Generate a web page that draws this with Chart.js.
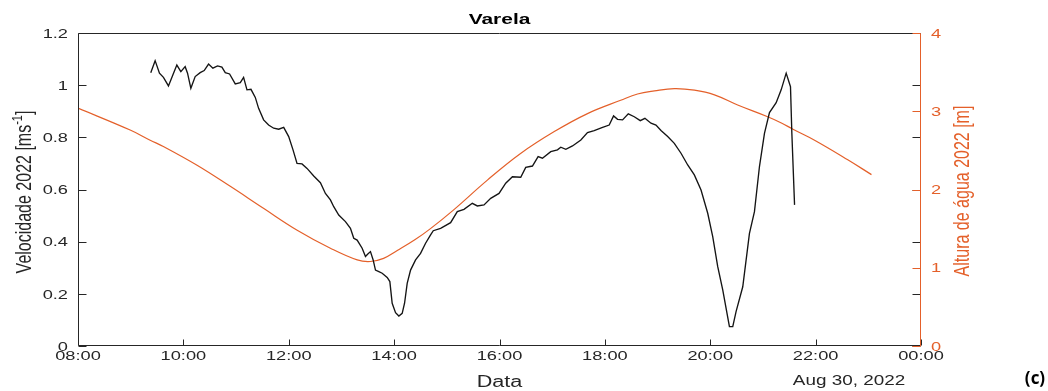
<!DOCTYPE html>
<html><head><meta charset="utf-8">
<script src="https://cdn.jsdelivr.net/npm/chart.js@4.4.1/dist/chart.umd.min.js"></script>
<style>html,body{margin:0;padding:0;background:#fff;}canvas{display:block;}</style>
</head><body>
<canvas id="c" width="1048" height="391"></canvas>
<script>
// ---- data (hours of day, Aug 30 2022) ----
const velTime = [9.381,9.464,9.546,9.622,9.717,9.800,9.876,9.952,10.034,10.079,10.142,10.224,10.319,10.395,10.478,10.560,10.649,10.731,10.795,10.877,10.985,11.080,11.143,11.207,11.283,11.365,11.428,11.523,11.618,11.714,11.809,11.904,11.999,12.081,12.157,12.252,12.347,12.474,12.601,12.696,12.791,12.854,12.949,13.076,13.171,13.234,13.298,13.393,13.456,13.501,13.551,13.602,13.646,13.710,13.773,13.868,13.919,13.963,14.027,14.090,14.153,14.198,14.248,14.312,14.407,14.502,14.597,14.692,14.743,14.882,15.072,15.199,15.326,15.484,15.579,15.706,15.833,15.991,16.118,16.245,16.403,16.498,16.625,16.733,16.815,16.973,17.100,17.163,17.259,17.385,17.544,17.670,17.797,17.956,18.082,18.165,18.241,18.336,18.444,18.558,18.672,18.760,18.875,18.970,19.065,19.192,19.318,19.445,19.572,19.698,19.825,19.952,20.047,20.142,20.237,20.364,20.427,20.490,20.617,20.744,20.839,20.934,21.029,21.124,21.251,21.346,21.441,21.523,21.549,21.600];
const velValue = [1.048,1.094,1.046,1.030,0.997,1.039,1.077,1.052,1.071,1.046,0.988,1.033,1.048,1.056,1.081,1.065,1.074,1.069,1.048,1.043,1.005,1.010,1.030,0.982,0.984,0.953,0.911,0.867,0.847,0.835,0.831,0.838,0.803,0.752,0.700,0.698,0.681,0.652,0.626,0.585,0.560,0.534,0.502,0.477,0.451,0.413,0.406,0.375,0.343,0.353,0.362,0.330,0.291,0.285,0.279,0.263,0.247,0.164,0.128,0.115,0.125,0.164,0.240,0.291,0.330,0.355,0.394,0.426,0.442,0.451,0.473,0.515,0.524,0.547,0.537,0.541,0.566,0.585,0.624,0.649,0.647,0.685,0.690,0.726,0.720,0.745,0.752,0.762,0.754,0.767,0.790,0.818,0.826,0.838,0.847,0.882,0.869,0.867,0.890,0.879,0.864,0.873,0.854,0.847,0.826,0.803,0.777,0.739,0.694,0.656,0.598,0.509,0.419,0.304,0.215,0.074,0.074,0.132,0.227,0.432,0.515,0.688,0.815,0.895,0.933,0.982,1.046,0.994,0.815,0.541];
const levelTime  = [8.00,8.99,9.37,9.62,10.26,10.89,11.52,12.16,12.79,13.30,13.55,13.80,14.06,14.40,14.69,15.13,15.77,16.40,17.04,17.67,18.30,18.62,18.94,19.32,19.70,20.08,20.52,21.09,21.35,21.57,21.98,22.61,23.06];
const levelValue = [3.04,2.76,2.63,2.55,2.31,2.04,1.76,1.48,1.25,1.10,1.08,1.12,1.22,1.36,1.50,1.74,2.12,2.46,2.74,2.97,3.14,3.22,3.26,3.29,3.27,3.21,3.08,2.93,2.85,2.77,2.63,2.38,2.19];
const xTickValues = [8,10,12,14,16,18,20,22,24];
const xTickLabels = ['08:00','10:00','12:00','14:00','16:00','18:00','20:00','22:00','00:00'];
const yLeftTicks = [0,0.2,0.4,0.6,0.8,1.0,1.2];
const yLeftLabels = ['0','0.2','0.4','0.6','0.8','1','1.2'];
const yRightTicks = [0,1,2,3,4];
const yRightLabels = ['0','1','2','3','4'];

const ORANGE = '#E4602A';
const AX = '#262626';
const SX = 1.35;
const FONT = '"Liberation Sans", Arial, sans-serif';

function txt(ctx, s, x, y, font, color, align, rot) {
  ctx.save();
  ctx.translate(x, y);
  if (rot) { ctx.rotate(-Math.PI / 2); ctx.scale(1, SX); } else { ctx.scale(SX, 1); }
  ctx.font = font; ctx.fillStyle = color; ctx.textAlign = align || 'center'; ctx.textBaseline = 'middle';
  ctx.fillText(s, 0, 0);
  ctx.restore();
}

const decor = {
  id: 'decor',
  afterDatasetsDraw(chart) {
    const ctx = chart.ctx;
    const a = chart.chartArea;
    const xs = chart.scales.x, ys = chart.scales.y, yr = chart.scales.y1;
    const L = Math.round(a.left) + 0.5, R = Math.round(a.right) - 0.5;
    const T = Math.round(a.top) + 0.5, B = Math.round(a.bottom) - 0.5;
    ctx.save();
    ctx.lineWidth = 1;
    ctx.strokeStyle = AX;
    ctx.beginPath(); ctx.moveTo(L, T); ctx.lineTo(R, T); ctx.stroke();
    ctx.beginPath(); ctx.moveTo(L, T); ctx.lineTo(L, B); ctx.lineTo(R, B); ctx.stroke();
    yLeftTicks.forEach(v => {
      const y = Math.round(ys.getPixelForValue(v)) + 0.5;
      ctx.strokeStyle = AX;
      ctx.beginPath(); ctx.moveTo(L, y); ctx.lineTo(L + 8, y); ctx.stroke();
      ctx.beginPath(); ctx.moveTo(R, y); ctx.lineTo(R - 8, y); ctx.stroke();
    });
    xTickValues.forEach(v => {
      const x = Math.round(xs.getPixelForValue(v)) + 0.5;
      ctx.strokeStyle = AX;
      ctx.beginPath(); ctx.moveTo(x, B); ctx.lineTo(x, B - 6); ctx.stroke();
    });
    ctx.strokeStyle = ORANGE;
    ctx.beginPath(); ctx.moveTo(R, T); ctx.lineTo(R, B + 0.5); ctx.stroke();
    yRightTicks.forEach(v => {
      const y = Math.round(yr.getPixelForValue(v)) + 0.5;
      ctx.beginPath(); ctx.moveTo(R, y); ctx.lineTo(R - 8, y); ctx.stroke();
    });
    ctx.restore();

    const tf = '13.5px ' + FONT;
    yLeftTicks.forEach((v, i) => txt(ctx, yLeftLabels[i], a.left - 10, ys.getPixelForValue(v) + 1, tf, AX, 'right'));
    yRightTicks.forEach((v, i) => txt(ctx, yRightLabels[i], a.right + 10, yr.getPixelForValue(v) + 1, tf, ORANGE, 'left'));
    xTickValues.forEach((v, i) => txt(ctx, xTickLabels[i], xs.getPixelForValue(v), a.bottom + 10, tf, AX, 'center'));

    const cx = (a.left + a.right) / 2;
    txt(ctx, 'Varela', cx, 20, 'bold 15.5px ' + FONT, '#000', 'center');
    txt(ctx, 'Data', cx, 383, '16px ' + FONT, AX, 'center');
    txt(ctx, 'Aug 30, 2022', 849, 381, '14px ' + FONT, AX, 'center');
    txt(ctx, 'Altura de água 2022 [m]', 963, 191, '16px ' + FONT, ORANGE, 'center', true);

    ctx.save();
    ctx.translate(25, 192);
    ctx.rotate(-Math.PI / 2); ctx.scale(1, SX);
    ctx.fillStyle = AX; ctx.textBaseline = 'middle';
    const f1 = '16px ' + FONT, f2 = '11px ' + FONT;
    const p1 = 'Velocidade 2022 [ms', p2 = '-1', p3 = ']';
    ctx.font = f1; const w1 = ctx.measureText(p1).width, w3 = ctx.measureText(p3).width;
    ctx.font = f2; const w2 = ctx.measureText(p2).width;
    let x0 = -(w1 + w2 + w3) / 2;
    ctx.textAlign = 'left';
    ctx.font = f1; ctx.fillText(p1, x0, 0);
    ctx.font = f2; ctx.fillText(p2, x0 + w1, -5);
    ctx.font = f1; ctx.fillText(p3, x0 + w1 + w2, 0);
    ctx.restore();

    ctx.save();
    ctx.font = 'bold 17px "Open Sans", "Liberation Sans", sans-serif';
    ctx.fillStyle = '#000'; ctx.textAlign = 'center'; ctx.textBaseline = 'middle';
    ctx.fillText('(c)', 1035, 379);
    ctx.restore();
  }
};

new Chart(document.getElementById('c'), {
  type: 'line',
  data: {
    datasets: [
      { label: 'Velocidade 2022', data: velTime.map((t, i) => ({ x: t, y: velValue[i] })), yAxisID: 'y',
        borderColor: '#141414', borderWidth: 1.35, pointRadius: 0, tension: 0, order: 0 },
      { label: 'Altura de água 2022', data: levelTime.map((t, i) => ({ x: t, y: levelValue[i] })), yAxisID: 'y1',
        borderColor: ORANGE, borderWidth: 1.2, pointRadius: 0, tension: 0.4, order: 1 }
    ]
  },
  options: {
    responsive: false, animation: false, events: [],
    layout: { padding: { top: 33, left: 0, right: 0, bottom: 0 } },
    plugins: { legend: { display: false }, tooltip: { enabled: false }, title: { display: false } },
    scales: {
      x: { type: 'linear', min: 8, max: 24, ticks: { display: false }, grid: { display: false }, border: { display: false },
           afterFit(s) { s.height = 45; } },
      y: { position: 'left', min: 0, max: 1.2, ticks: { display: false }, grid: { display: false }, border: { display: false },
           afterFit(s) { s.width = 78; } },
      y1: { position: 'right', min: 0, max: 4, ticks: { display: false }, grid: { display: false }, border: { display: false },
            afterFit(s) { s.width = 127; } }
    }
  },
  plugins: [decor]
});
</script>
</body></html>
